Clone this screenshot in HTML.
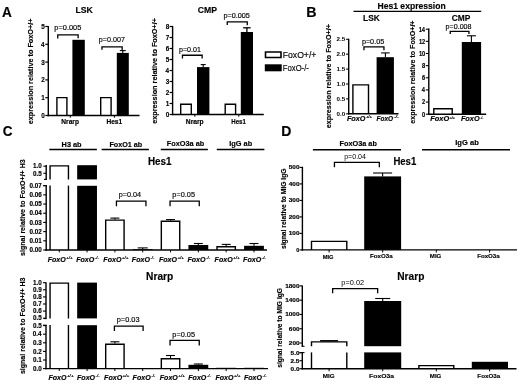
<!DOCTYPE html>
<html><head><meta charset="utf-8"><style>
html,body{margin:0;padding:0;background:#fff;}
svg{display:block;font-family:"Liberation Sans", sans-serif;filter:grayscale(1);}
text{fill:#000;stroke:#000;stroke-width:0.15;} text.n{stroke-width:0.16px;} text.l{stroke-width:0;}
</style></head><body>
<svg width="520" height="384" viewBox="0 0 520 384">
<rect width="520" height="384" fill="#fff"/>
<text transform="translate(1.91 16.80) scale(0.970 1)" font-size="14.00" font-weight="bold">A</text>
<text transform="translate(75.48 13.00) scale(0.992 1)" font-size="8.80" font-weight="bold">LSK</text>
<text transform="translate(197.70 13.40) scale(1.006 1)" font-size="8.60" font-weight="bold">CMP</text>
<line x1="48.30" y1="25.90" x2="48.30" y2="116.20" stroke="#000" stroke-width="1.4"/>
<line x1="45.30" y1="115.50" x2="48.30" y2="115.50" stroke="#000" stroke-width="1.2"/>
<text transform="translate(41.32 117.90) scale(0.950 1)" font-size="6.70" font-weight="bold">0</text>
<line x1="45.30" y1="97.70" x2="48.30" y2="97.70" stroke="#000" stroke-width="1.2"/>
<text transform="translate(41.23 100.10) scale(0.950 1)" font-size="6.70" font-weight="bold">1</text>
<line x1="45.30" y1="79.90" x2="48.30" y2="79.90" stroke="#000" stroke-width="1.2"/>
<text transform="translate(41.32 82.30) scale(0.950 1)" font-size="6.70" font-weight="bold">2</text>
<line x1="45.30" y1="62.10" x2="48.30" y2="62.10" stroke="#000" stroke-width="1.2"/>
<text transform="translate(41.29 64.50) scale(0.950 1)" font-size="6.70" font-weight="bold">3</text>
<line x1="45.30" y1="44.30" x2="48.30" y2="44.30" stroke="#000" stroke-width="1.2"/>
<text transform="translate(41.10 46.70) scale(0.950 1)" font-size="6.70" font-weight="bold">4</text>
<line x1="45.30" y1="26.50" x2="48.30" y2="26.50" stroke="#000" stroke-width="1.2"/>
<text transform="translate(41.23 28.90) scale(0.950 1)" font-size="6.70" font-weight="bold">5</text>
<line x1="47.60" y1="115.50" x2="139.50" y2="115.50" stroke="#000" stroke-width="1.4"/>
<text transform="translate(32.60 124.24) rotate(-90) scale(1.052 1)" font-size="6.90" font-weight="bold">expression relative to FoxO+/+</text>
<path d="M56.90 115.50 V97.60 H66.90 V115.50" stroke="#000" stroke-width="1.4" fill="none"/>
<rect x="72.40" y="39.80" width="12.40" height="75.70" fill="#000"/>
<path d="M100.70 115.50 V97.60 H111.10 V115.50" stroke="#000" stroke-width="1.4" fill="none"/>
<rect x="116.80" y="52.90" width="12.00" height="62.60" fill="#000"/>
<line x1="122.80" y1="50.60" x2="122.80" y2="52.90" stroke="#000" stroke-width="1.1"/>
<line x1="119.80" y1="50.60" x2="125.80" y2="50.60" stroke="#000" stroke-width="1.1"/>
<text transform="translate(61.32 124.10) scale(1.000 1)" font-size="6.60" font-weight="bold">Nrarp</text>
<text transform="translate(106.42 124.10) scale(1.001 1)" font-size="6.60" font-weight="bold">Hes1</text>
<line x1="70.30" y1="115.50" x2="70.30" y2="117.70" stroke="#000" stroke-width="1"/>
<line x1="114.40" y1="115.50" x2="114.40" y2="117.70" stroke="#000" stroke-width="1"/>
<text transform="translate(54.37 30.40) scale(1.040 1)" font-size="7.10" class="n">p=0.005</text>
<path d="M57.75 38.40 V34.85 H78.15 V38.20" stroke="#000" stroke-width="1.3" fill="none"/>
<text transform="translate(98.78 42.00) scale(1.011 1)" font-size="7.10" class="n">p=0.007</text>
<path d="M101.95 49.80 V46.85 H122.15 V50.60" stroke="#000" stroke-width="1.3" fill="none"/>
<line x1="172.60" y1="25.90" x2="172.60" y2="115.20" stroke="#000" stroke-width="1.4"/>
<line x1="169.60" y1="114.50" x2="172.60" y2="114.50" stroke="#000" stroke-width="1.2"/>
<text transform="translate(165.72 116.90) scale(0.950 1)" font-size="6.70" font-weight="bold">0</text>
<line x1="169.60" y1="103.50" x2="172.60" y2="103.50" stroke="#000" stroke-width="1.2"/>
<text transform="translate(165.63 105.90) scale(0.950 1)" font-size="6.70" font-weight="bold">1</text>
<line x1="169.60" y1="92.50" x2="172.60" y2="92.50" stroke="#000" stroke-width="1.2"/>
<text transform="translate(165.72 94.90) scale(0.950 1)" font-size="6.70" font-weight="bold">2</text>
<line x1="169.60" y1="81.50" x2="172.60" y2="81.50" stroke="#000" stroke-width="1.2"/>
<text transform="translate(165.69 83.90) scale(0.950 1)" font-size="6.70" font-weight="bold">3</text>
<line x1="169.60" y1="70.50" x2="172.60" y2="70.50" stroke="#000" stroke-width="1.2"/>
<text transform="translate(165.50 72.90) scale(0.950 1)" font-size="6.70" font-weight="bold">4</text>
<line x1="169.60" y1="59.50" x2="172.60" y2="59.50" stroke="#000" stroke-width="1.2"/>
<text transform="translate(165.63 61.90) scale(0.950 1)" font-size="6.70" font-weight="bold">5</text>
<line x1="169.60" y1="48.50" x2="172.60" y2="48.50" stroke="#000" stroke-width="1.2"/>
<text transform="translate(165.69 50.90) scale(0.950 1)" font-size="6.70" font-weight="bold">6</text>
<line x1="169.60" y1="37.50" x2="172.60" y2="37.50" stroke="#000" stroke-width="1.2"/>
<text transform="translate(165.72 39.90) scale(0.950 1)" font-size="6.70" font-weight="bold">7</text>
<line x1="169.60" y1="26.50" x2="172.60" y2="26.50" stroke="#000" stroke-width="1.2"/>
<text transform="translate(165.66 28.90) scale(0.950 1)" font-size="6.70" font-weight="bold">8</text>
<line x1="171.90" y1="114.50" x2="263.80" y2="114.50" stroke="#000" stroke-width="1.4"/>
<text transform="translate(157.00 123.84) rotate(-90) scale(1.056 1)" font-size="6.90" font-weight="bold">expression relative to FoxO+/+</text>
<path d="M180.70 114.50 V104.20 H191.30 V114.50" stroke="#000" stroke-width="1.4" fill="none"/>
<rect x="197.00" y="67.10" width="12.40" height="47.40" fill="#000"/>
<line x1="203.20" y1="64.60" x2="203.20" y2="67.10" stroke="#000" stroke-width="1.1"/>
<line x1="200.70" y1="64.60" x2="205.70" y2="64.60" stroke="#000" stroke-width="1.1"/>
<path d="M225.20 114.50 V104.20 H235.60 V114.50" stroke="#000" stroke-width="1.4" fill="none"/>
<rect x="240.80" y="32.00" width="12.20" height="82.50" fill="#000"/>
<line x1="246.90" y1="27.80" x2="246.90" y2="32.00" stroke="#000" stroke-width="1.3"/>
<line x1="243.15" y1="27.80" x2="250.65" y2="27.80" stroke="#000" stroke-width="1.3"/>
<text transform="translate(185.81 123.50) scale(1.018 1)" font-size="6.60" font-weight="bold">Nrarp</text>
<text transform="translate(231.25 123.50) scale(0.929 1)" font-size="6.60" font-weight="bold">Hes1</text>
<line x1="194.80" y1="114.50" x2="194.80" y2="116.70" stroke="#000" stroke-width="1"/>
<line x1="238.80" y1="114.50" x2="238.80" y2="116.70" stroke="#000" stroke-width="1"/>
<text transform="translate(178.99 51.60) scale(0.999 1)" font-size="7.10" class="n">p=0.01</text>
<path d="M182.45 58.60 V55.25 H202.15 V58.60" stroke="#000" stroke-width="1.3" fill="none"/>
<text transform="translate(223.38 17.50) scale(1.028 1)" font-size="7.10" class="n">p=0.005</text>
<path d="M227.25 24.90 V21.85 H247.25 V25.30" stroke="#000" stroke-width="1.3" fill="none"/>
<path d="M265.5 52.0 H281.0 V57.5 H265.5 Z" stroke="#000" stroke-width="1.6" fill="none"/>
<text transform="translate(282.76 57.90) scale(0.940 1)" font-size="9.20" class="n">FoxO+/+</text>
<rect x="264.80" y="64.30" width="16.90" height="7.00" fill="#000"/>
<text transform="translate(282.83 70.60) scale(0.836 1)" font-size="9.20" class="n">FoxO-/-</text>
<text transform="translate(306.22 17.00) scale(1.019 1)" font-size="14.00" font-weight="bold">B</text>
<text transform="translate(377.49 8.60) scale(0.954 1)" font-size="9.00" font-weight="bold">Hes1 expression</text>
<line x1="353.50" y1="11.40" x2="481.20" y2="11.40" stroke="#000" stroke-width="1.2"/>
<text transform="translate(363.11 20.60) scale(0.996 1)" font-size="8.40" font-weight="bold">LSK</text>
<text transform="translate(451.82 20.60) scale(0.973 1)" font-size="8.60" font-weight="bold">CMP</text>
<line x1="348.70" y1="38.70" x2="348.70" y2="114.50" stroke="#000" stroke-width="1.4"/>
<line x1="346.10" y1="113.80" x2="348.70" y2="113.80" stroke="#000" stroke-width="1.1"/>
<text transform="translate(336.56 115.60) scale(1.250 1)" font-size="5.00" font-weight="bold" class="l">0.0</text>
<line x1="346.10" y1="98.90" x2="348.70" y2="98.90" stroke="#000" stroke-width="1.1"/>
<text transform="translate(336.47 100.70) scale(1.250 1)" font-size="5.00" font-weight="bold" class="l">0.5</text>
<line x1="346.10" y1="84.00" x2="348.70" y2="84.00" stroke="#000" stroke-width="1.1"/>
<text transform="translate(336.56 85.80) scale(1.250 1)" font-size="5.00" font-weight="bold" class="l">1.0</text>
<line x1="346.10" y1="69.10" x2="348.70" y2="69.10" stroke="#000" stroke-width="1.1"/>
<text transform="translate(336.47 70.90) scale(1.250 1)" font-size="5.00" font-weight="bold" class="l">1.5</text>
<line x1="346.10" y1="54.20" x2="348.70" y2="54.20" stroke="#000" stroke-width="1.1"/>
<text transform="translate(336.56 56.00) scale(1.250 1)" font-size="5.00" font-weight="bold" class="l">2.0</text>
<line x1="346.10" y1="39.30" x2="348.70" y2="39.30" stroke="#000" stroke-width="1.1"/>
<text transform="translate(336.47 41.10) scale(1.250 1)" font-size="5.00" font-weight="bold" class="l">2.5</text>
<line x1="348.00" y1="113.80" x2="398.50" y2="113.80" stroke="#000" stroke-width="1.4"/>
<text transform="translate(331.30 128.24) rotate(-90) scale(1.053 1)" font-size="6.80" font-weight="bold">expression relative to FoxO+/+</text>
<path d="M352.90 113.80 V84.90 H368.50 V113.80" stroke="#000" stroke-width="1.4" fill="none"/>
<rect x="376.60" y="57.20" width="17.30" height="56.60" fill="#000"/>
<line x1="385.40" y1="52.90" x2="385.40" y2="57.20" stroke="#000" stroke-width="1.1"/>
<line x1="381.15" y1="52.90" x2="389.65" y2="52.90" stroke="#000" stroke-width="1.1"/>
<text transform="translate(346.90 120.90) scale(1.043 1)" font-size="7.00" font-style="italic" font-weight="bold">FoxO</text>
<text transform="translate(365.90 118.38) scale(0.979 1)" font-size="4.34" font-style="italic" font-weight="bold">+/+</text>
<text transform="translate(376.52 120.90) scale(0.930 1)" font-size="7.00" font-style="italic" font-weight="bold">FoxO</text>
<text transform="translate(393.58 118.38) scale(1.328 1)" font-size="4.34" font-style="italic" font-weight="bold">-/-</text>
<text transform="translate(361.88 43.60) scale(1.021 1)" font-size="7.10" class="n">p=0.05</text>
<path d="M363.95 50.20 V46.85 H383.95 V50.20" stroke="#000" stroke-width="1.3" fill="none"/>
<line x1="428.80" y1="28.62" x2="428.80" y2="114.90" stroke="#000" stroke-width="1.4"/>
<line x1="425.80" y1="114.20" x2="428.80" y2="114.20" stroke="#000" stroke-width="1.1"/>
<text transform="translate(422.05 116.50) scale(0.880 1)" font-size="6.50" font-weight="bold">0</text>
<line x1="425.80" y1="102.06" x2="428.80" y2="102.06" stroke="#000" stroke-width="1.1"/>
<text transform="translate(422.05 104.36) scale(0.880 1)" font-size="6.50" font-weight="bold">2</text>
<line x1="425.80" y1="89.92" x2="428.80" y2="89.92" stroke="#000" stroke-width="1.1"/>
<text transform="translate(421.85 92.22) scale(0.880 1)" font-size="6.50" font-weight="bold">4</text>
<line x1="425.80" y1="77.78" x2="428.80" y2="77.78" stroke="#000" stroke-width="1.1"/>
<text transform="translate(422.03 80.08) scale(0.880 1)" font-size="6.50" font-weight="bold">6</text>
<line x1="425.80" y1="65.64" x2="428.80" y2="65.64" stroke="#000" stroke-width="1.1"/>
<text transform="translate(422.00 67.94) scale(0.880 1)" font-size="6.50" font-weight="bold">8</text>
<line x1="425.80" y1="53.50" x2="428.80" y2="53.50" stroke="#000" stroke-width="1.1"/>
<text transform="translate(418.88 55.80) scale(0.880 1)" font-size="6.50" font-weight="bold">10</text>
<line x1="425.80" y1="41.36" x2="428.80" y2="41.36" stroke="#000" stroke-width="1.1"/>
<text transform="translate(418.88 43.66) scale(0.880 1)" font-size="6.50" font-weight="bold">12</text>
<line x1="425.80" y1="29.22" x2="428.80" y2="29.22" stroke="#000" stroke-width="1.1"/>
<text transform="translate(418.68 31.52) scale(0.880 1)" font-size="6.50" font-weight="bold">14</text>
<line x1="428.10" y1="114.20" x2="486.20" y2="114.20" stroke="#000" stroke-width="1.4"/>
<text transform="translate(415.20 123.73) rotate(-90) scale(1.045 1)" font-size="6.80" font-weight="bold">expression relative to FoxO+/+</text>
<path d="M433.80 114.20 V108.80 H452.20 V114.20" stroke="#000" stroke-width="1.4" fill="none"/>
<rect x="461.80" y="42.00" width="19.30" height="72.20" fill="#000"/>
<line x1="471.40" y1="35.80" x2="471.40" y2="42.00" stroke="#000" stroke-width="1.1"/>
<line x1="466.90" y1="35.80" x2="475.90" y2="35.80" stroke="#000" stroke-width="1.1"/>
<text transform="translate(430.20 121.10) scale(1.066 1)" font-size="7.00" font-style="italic" font-weight="bold">FoxO</text>
<text transform="translate(449.63 118.58) scale(0.844 1)" font-size="4.34" font-style="italic" font-weight="bold">+/+</text>
<text transform="translate(460.90 121.10) scale(1.049 1)" font-size="7.00" font-style="italic" font-weight="bold">FoxO</text>
<text transform="translate(480.14 118.58) scale(0.807 1)" font-size="4.34" font-style="italic" font-weight="bold">-/-</text>
<text transform="translate(445.59 28.50) scale(1.004 1)" font-size="7.10" class="n">p=0.008</text>
<path d="M450.25 34.00 V31.45 H468.95 V34.00" stroke="#000" stroke-width="1.3" fill="none"/>
<text transform="translate(2.71 136.40) scale(0.971 1)" font-size="14.00" font-weight="bold">C</text>
<text transform="translate(61.57 146.60) scale(1.085 1)" font-size="6.80" font-weight="bold">H3 ab</text>
<line x1="49.30" y1="149.50" x2="96.90" y2="149.50" stroke="#000" stroke-width="1.5"/>
<text transform="translate(109.38 146.60) scale(1.061 1)" font-size="6.80" font-weight="bold">FoxO1 ab</text>
<line x1="101.60" y1="149.50" x2="148.90" y2="149.50" stroke="#000" stroke-width="1.5"/>
<text transform="translate(166.67 146.10) scale(1.081 1)" font-size="6.80" font-weight="bold">FoxO3a ab</text>
<line x1="160.80" y1="149.50" x2="207.90" y2="149.50" stroke="#000" stroke-width="1.5"/>
<text transform="translate(229.27 146.10) scale(1.086 1)" font-size="6.80" font-weight="bold">IgG ab</text>
<line x1="216.80" y1="149.50" x2="264.40" y2="149.50" stroke="#000" stroke-width="1.5"/>
<text transform="translate(147.91 165.20) scale(0.977 1)" font-size="10.10" font-weight="bold">Hes1</text>
<text transform="translate(146.09 280.00) scale(1.000 1)" font-size="10.20" font-weight="bold">Nrarp</text>
<line x1="46.20" y1="165.00" x2="46.20" y2="179.40" stroke="#000" stroke-width="1.4"/>
<line x1="43.40" y1="166.20" x2="46.20" y2="166.20" stroke="#000" stroke-width="1.1"/>
<text transform="translate(33.09 168.40) scale(1.000 1)" font-size="6.30" font-weight="bold">1.0</text>
<line x1="43.40" y1="173.30" x2="46.20" y2="173.30" stroke="#000" stroke-width="1.1"/>
<text transform="translate(33.00 175.50) scale(1.000 1)" font-size="6.30" font-weight="bold">0.5</text>
<line x1="44.00" y1="179.40" x2="46.90" y2="179.40" stroke="#000" stroke-width="1.1"/>
<line x1="46.20" y1="185.50" x2="46.20" y2="250.70" stroke="#000" stroke-width="1.4"/>
<line x1="43.20" y1="185.60" x2="46.90" y2="185.60" stroke="#000" stroke-width="1.1"/>
<line x1="43.20" y1="250.00" x2="46.20" y2="250.00" stroke="#000" stroke-width="1.1"/>
<text transform="translate(29.60 252.10) scale(1.000 1)" font-size="6.30" font-weight="bold">0.00</text>
<line x1="43.20" y1="240.81" x2="46.20" y2="240.81" stroke="#000" stroke-width="1.1"/>
<text transform="translate(29.50 242.91) scale(1.000 1)" font-size="6.30" font-weight="bold">0.01</text>
<line x1="43.20" y1="231.62" x2="46.20" y2="231.62" stroke="#000" stroke-width="1.1"/>
<text transform="translate(29.60 233.72) scale(1.000 1)" font-size="6.30" font-weight="bold">0.02</text>
<line x1="43.20" y1="222.43" x2="46.20" y2="222.43" stroke="#000" stroke-width="1.1"/>
<text transform="translate(29.57 224.53) scale(1.000 1)" font-size="6.30" font-weight="bold">0.03</text>
<line x1="43.20" y1="213.24" x2="46.20" y2="213.24" stroke="#000" stroke-width="1.1"/>
<text transform="translate(29.38 215.34) scale(1.000 1)" font-size="6.30" font-weight="bold">0.04</text>
<line x1="43.20" y1="204.05" x2="46.20" y2="204.05" stroke="#000" stroke-width="1.1"/>
<text transform="translate(29.50 206.15) scale(1.000 1)" font-size="6.30" font-weight="bold">0.05</text>
<line x1="43.20" y1="194.86" x2="46.20" y2="194.86" stroke="#000" stroke-width="1.1"/>
<text transform="translate(29.57 196.96) scale(1.000 1)" font-size="6.30" font-weight="bold">0.06</text>
<line x1="43.20" y1="185.67" x2="46.20" y2="185.67" stroke="#000" stroke-width="1.1"/>
<text transform="translate(29.60 187.77) scale(1.000 1)" font-size="6.30" font-weight="bold">0.07</text>
<line x1="45.50" y1="250.00" x2="267.00" y2="250.00" stroke="#000" stroke-width="1.4"/>
<text transform="translate(24.90 255.90) rotate(-90) scale(1.101 1)" font-size="6.40" font-weight="bold">signal relative to FoxO+/+ H3</text>
<path d="M50.05 179.40 V165.90 H68.45 V179.40" stroke="#000" stroke-width="1.4" fill="none"/>
<line x1="50.05" y1="185.60" x2="50.05" y2="250.00" stroke="#000" stroke-width="1.4"/>
<line x1="68.45" y1="185.60" x2="68.45" y2="250.00" stroke="#000" stroke-width="1.4"/>
<rect x="77.17" y="165.20" width="19.80" height="14.20" fill="#000"/>
<rect x="77.17" y="185.80" width="19.80" height="64.20" fill="#000"/>
<path d="M105.69 250.00 V220.10 H124.09 V250.00" stroke="#000" stroke-width="1.4" fill="none"/>
<line x1="114.89" y1="218.10" x2="114.89" y2="219.40" stroke="#000" stroke-width="1.1"/>
<line x1="110.39" y1="218.10" x2="119.39" y2="218.10" stroke="#000" stroke-width="1.1"/>
<rect x="132.81" y="249.20" width="19.80" height="0.80" fill="#000"/>
<line x1="142.71" y1="247.90" x2="142.71" y2="249.20" stroke="#000" stroke-width="1.1"/>
<line x1="137.71" y1="247.90" x2="147.71" y2="247.90" stroke="#000" stroke-width="1.1"/>
<path d="M161.33 250.00 V221.30 H179.73 V250.00" stroke="#000" stroke-width="1.4" fill="none"/>
<line x1="170.53" y1="219.60" x2="170.53" y2="220.60" stroke="#000" stroke-width="1.1"/>
<line x1="166.03" y1="219.60" x2="175.03" y2="219.60" stroke="#000" stroke-width="1.1"/>
<rect x="188.45" y="245.00" width="19.80" height="5.00" fill="#000"/>
<line x1="198.35" y1="243.50" x2="198.35" y2="245.00" stroke="#000" stroke-width="1.1"/>
<line x1="193.85" y1="243.50" x2="202.85" y2="243.50" stroke="#000" stroke-width="1.1"/>
<path d="M216.97 250.00 V246.70 H235.37 V250.00" stroke="#000" stroke-width="1.4" fill="none"/>
<line x1="226.17" y1="244.40" x2="226.17" y2="246.00" stroke="#000" stroke-width="1.1"/>
<line x1="221.67" y1="244.40" x2="230.67" y2="244.40" stroke="#000" stroke-width="1.1"/>
<rect x="244.09" y="245.80" width="19.80" height="4.20" fill="#000"/>
<line x1="253.99" y1="243.50" x2="253.99" y2="245.80" stroke="#000" stroke-width="1.1"/>
<line x1="249.49" y1="243.50" x2="258.49" y2="243.50" stroke="#000" stroke-width="1.1"/>
<line x1="59.25" y1="250.00" x2="59.25" y2="252.40" stroke="#000" stroke-width="1"/>
<text transform="translate(47.66 261.50) scale(1.045 1)" font-size="6.80" font-style="italic" font-weight="bold">FoxO</text>
<text transform="translate(66.12 259.05) scale(1.095 1)" font-size="4.22" font-style="italic" font-weight="bold">+/+</text>
<line x1="87.07" y1="250.00" x2="87.07" y2="252.40" stroke="#000" stroke-width="1"/>
<text transform="translate(76.18 261.50) scale(1.045 1)" font-size="6.80" font-style="italic" font-weight="bold">FoxO</text>
<text transform="translate(94.79 259.05) scale(1.018 1)" font-size="4.22" font-style="italic" font-weight="bold">-/-</text>
<line x1="114.89" y1="250.00" x2="114.89" y2="252.40" stroke="#000" stroke-width="1"/>
<text transform="translate(103.30 261.50) scale(1.045 1)" font-size="6.80" font-style="italic" font-weight="bold">FoxO</text>
<text transform="translate(121.76 259.05) scale(1.095 1)" font-size="4.22" font-style="italic" font-weight="bold">+/+</text>
<line x1="142.71" y1="250.00" x2="142.71" y2="252.40" stroke="#000" stroke-width="1"/>
<text transform="translate(131.82 261.50) scale(1.045 1)" font-size="6.80" font-style="italic" font-weight="bold">FoxO</text>
<text transform="translate(150.43 259.05) scale(1.018 1)" font-size="4.22" font-style="italic" font-weight="bold">-/-</text>
<line x1="170.53" y1="250.00" x2="170.53" y2="252.40" stroke="#000" stroke-width="1"/>
<text transform="translate(158.94 261.50) scale(1.045 1)" font-size="6.80" font-style="italic" font-weight="bold">FoxO</text>
<text transform="translate(177.40 259.05) scale(1.095 1)" font-size="4.22" font-style="italic" font-weight="bold">+/+</text>
<line x1="198.35" y1="250.00" x2="198.35" y2="252.40" stroke="#000" stroke-width="1"/>
<text transform="translate(187.46 261.50) scale(1.045 1)" font-size="6.80" font-style="italic" font-weight="bold">FoxO</text>
<text transform="translate(206.07 259.05) scale(1.018 1)" font-size="4.22" font-style="italic" font-weight="bold">-/-</text>
<line x1="226.17" y1="250.00" x2="226.17" y2="252.40" stroke="#000" stroke-width="1"/>
<text transform="translate(214.58 261.50) scale(1.045 1)" font-size="6.80" font-style="italic" font-weight="bold">FoxO</text>
<text transform="translate(233.04 259.05) scale(1.095 1)" font-size="4.22" font-style="italic" font-weight="bold">+/+</text>
<line x1="253.99" y1="250.00" x2="253.99" y2="252.40" stroke="#000" stroke-width="1"/>
<text transform="translate(243.10 261.50) scale(1.045 1)" font-size="6.80" font-style="italic" font-weight="bold">FoxO</text>
<text transform="translate(261.71 259.05) scale(1.018 1)" font-size="4.22" font-style="italic" font-weight="bold">-/-</text>
<text transform="translate(118.68 197.00) scale(1.022 1)" font-size="7.10" class="n">p=0.04</text>
<path d="M116.45 206.20 V201.15 H145.95 V206.20" stroke="#000" stroke-width="1.3" fill="none"/>
<text transform="translate(172.37 197.00) scale(1.035 1)" font-size="7.10" class="n">p=0.05</text>
<path d="M170.05 206.20 V201.15 H199.25 V206.20" stroke="#000" stroke-width="1.3" fill="none"/>
<line x1="46.00" y1="282.20" x2="46.00" y2="318.40" stroke="#000" stroke-width="1.4"/>
<line x1="43.00" y1="282.70" x2="46.00" y2="282.70" stroke="#000" stroke-width="1.1"/>
<text transform="translate(33.09 284.80) scale(1.000 1)" font-size="6.30" font-weight="bold">1.0</text>
<line x1="43.00" y1="289.80" x2="46.00" y2="289.80" stroke="#000" stroke-width="1.1"/>
<text transform="translate(33.06 291.90) scale(1.000 1)" font-size="6.30" font-weight="bold">0.9</text>
<line x1="43.00" y1="296.90" x2="46.00" y2="296.90" stroke="#000" stroke-width="1.1"/>
<text transform="translate(33.03 299.00) scale(1.000 1)" font-size="6.30" font-weight="bold">0.8</text>
<line x1="43.00" y1="304.00" x2="46.00" y2="304.00" stroke="#000" stroke-width="1.1"/>
<text transform="translate(33.09 306.10) scale(1.000 1)" font-size="6.30" font-weight="bold">0.7</text>
<line x1="43.00" y1="311.10" x2="46.00" y2="311.10" stroke="#000" stroke-width="1.1"/>
<text transform="translate(33.06 313.20) scale(1.000 1)" font-size="6.30" font-weight="bold">0.6</text>
<line x1="43.00" y1="318.20" x2="46.00" y2="318.20" stroke="#000" stroke-width="1.1"/>
<text transform="translate(33.00 320.30) scale(1.000 1)" font-size="6.30" font-weight="bold">0.5</text>
<line x1="43.80" y1="318.60" x2="46.70" y2="318.60" stroke="#000" stroke-width="1.1"/>
<line x1="46.00" y1="325.00" x2="46.00" y2="369.30" stroke="#000" stroke-width="1.4"/>
<line x1="43.00" y1="325.20" x2="46.70" y2="325.20" stroke="#000" stroke-width="1.1"/>
<line x1="43.00" y1="368.60" x2="46.00" y2="368.60" stroke="#000" stroke-width="1.1"/>
<text transform="translate(33.09 370.70) scale(1.000 1)" font-size="6.30" font-weight="bold">0.0</text>
<line x1="43.00" y1="360.00" x2="46.00" y2="360.00" stroke="#000" stroke-width="1.1"/>
<text transform="translate(33.00 362.10) scale(1.000 1)" font-size="6.30" font-weight="bold">0.1</text>
<line x1="43.00" y1="351.40" x2="46.00" y2="351.40" stroke="#000" stroke-width="1.1"/>
<text transform="translate(33.09 353.50) scale(1.000 1)" font-size="6.30" font-weight="bold">0.2</text>
<line x1="43.00" y1="342.80" x2="46.00" y2="342.80" stroke="#000" stroke-width="1.1"/>
<text transform="translate(33.06 344.90) scale(1.000 1)" font-size="6.30" font-weight="bold">0.3</text>
<line x1="43.00" y1="334.20" x2="46.00" y2="334.20" stroke="#000" stroke-width="1.1"/>
<text transform="translate(32.87 336.30) scale(1.000 1)" font-size="6.30" font-weight="bold">0.4</text>
<line x1="43.00" y1="325.60" x2="46.00" y2="325.60" stroke="#000" stroke-width="1.1"/>
<text transform="translate(33.00 327.70) scale(1.000 1)" font-size="6.30" font-weight="bold">0.5</text>
<line x1="45.30" y1="368.60" x2="268.00" y2="368.60" stroke="#000" stroke-width="1.4"/>
<text transform="translate(24.80 374.10) rotate(-90) scale(1.103 1)" font-size="6.40" font-weight="bold">signal relative to FoxO+/+ H3</text>
<path d="M50.05 318.40 V283.10 H68.45 V318.40" stroke="#000" stroke-width="1.4" fill="none"/>
<line x1="50.05" y1="325.00" x2="50.05" y2="368.60" stroke="#000" stroke-width="1.4"/>
<line x1="68.45" y1="325.00" x2="68.45" y2="368.60" stroke="#000" stroke-width="1.4"/>
<rect x="77.17" y="282.60" width="19.80" height="35.80" fill="#000"/>
<rect x="77.17" y="325.20" width="19.80" height="43.40" fill="#000"/>
<path d="M105.69 368.60 V344.20 H124.09 V368.60" stroke="#000" stroke-width="1.4" fill="none"/>
<line x1="114.89" y1="341.80" x2="114.89" y2="343.50" stroke="#000" stroke-width="1.1"/>
<line x1="110.39" y1="341.80" x2="119.39" y2="341.80" stroke="#000" stroke-width="1.1"/>
<path d="M161.33 368.60 V358.70 H179.73 V368.60" stroke="#000" stroke-width="1.4" fill="none"/>
<line x1="170.53" y1="355.50" x2="170.53" y2="358.00" stroke="#000" stroke-width="1.1"/>
<line x1="166.03" y1="355.50" x2="175.03" y2="355.50" stroke="#000" stroke-width="1.1"/>
<rect x="188.45" y="364.80" width="19.80" height="3.80" fill="#000"/>
<line x1="198.35" y1="364.00" x2="198.35" y2="364.80" stroke="#000" stroke-width="1.1"/>
<line x1="193.85" y1="364.00" x2="202.85" y2="364.00" stroke="#000" stroke-width="1.1"/>
<rect x="216.27" y="367.80" width="19.80" height="0.80" fill="#000"/>
<rect x="244.09" y="367.80" width="19.80" height="0.80" fill="#000"/>
<line x1="59.25" y1="368.60" x2="59.25" y2="371.00" stroke="#000" stroke-width="1"/>
<text transform="translate(48.46 379.90) scale(1.045 1)" font-size="6.80" font-style="italic" font-weight="bold">FoxO</text>
<text transform="translate(66.92 377.45) scale(1.095 1)" font-size="4.22" font-style="italic" font-weight="bold">+/+</text>
<line x1="87.07" y1="368.60" x2="87.07" y2="371.00" stroke="#000" stroke-width="1"/>
<text transform="translate(76.98 379.90) scale(1.045 1)" font-size="6.80" font-style="italic" font-weight="bold">FoxO</text>
<text transform="translate(95.59 377.45) scale(1.018 1)" font-size="4.22" font-style="italic" font-weight="bold">-/-</text>
<line x1="114.89" y1="368.60" x2="114.89" y2="371.00" stroke="#000" stroke-width="1"/>
<text transform="translate(104.10 379.90) scale(1.045 1)" font-size="6.80" font-style="italic" font-weight="bold">FoxO</text>
<text transform="translate(122.56 377.45) scale(1.095 1)" font-size="4.22" font-style="italic" font-weight="bold">+/+</text>
<line x1="142.71" y1="368.60" x2="142.71" y2="371.00" stroke="#000" stroke-width="1"/>
<text transform="translate(132.62 379.90) scale(1.045 1)" font-size="6.80" font-style="italic" font-weight="bold">FoxO</text>
<text transform="translate(151.23 377.45) scale(1.018 1)" font-size="4.22" font-style="italic" font-weight="bold">-/-</text>
<line x1="170.53" y1="368.60" x2="170.53" y2="371.00" stroke="#000" stroke-width="1"/>
<text transform="translate(159.74 379.90) scale(1.045 1)" font-size="6.80" font-style="italic" font-weight="bold">FoxO</text>
<text transform="translate(178.20 377.45) scale(1.095 1)" font-size="4.22" font-style="italic" font-weight="bold">+/+</text>
<line x1="198.35" y1="368.60" x2="198.35" y2="371.00" stroke="#000" stroke-width="1"/>
<text transform="translate(188.26 379.90) scale(1.045 1)" font-size="6.80" font-style="italic" font-weight="bold">FoxO</text>
<text transform="translate(206.87 377.45) scale(1.018 1)" font-size="4.22" font-style="italic" font-weight="bold">-/-</text>
<line x1="226.17" y1="368.60" x2="226.17" y2="371.00" stroke="#000" stroke-width="1"/>
<text transform="translate(215.38 379.90) scale(1.045 1)" font-size="6.80" font-style="italic" font-weight="bold">FoxO</text>
<text transform="translate(233.84 377.45) scale(1.095 1)" font-size="4.22" font-style="italic" font-weight="bold">+/+</text>
<line x1="253.99" y1="368.60" x2="253.99" y2="371.00" stroke="#000" stroke-width="1"/>
<text transform="translate(243.90 379.90) scale(1.045 1)" font-size="6.80" font-style="italic" font-weight="bold">FoxO</text>
<text transform="translate(262.51 377.45) scale(1.018 1)" font-size="4.22" font-style="italic" font-weight="bold">-/-</text>
<text transform="translate(116.77 322.30) scale(1.040 1)" font-size="7.10" class="n">p=0.03</text>
<path d="M114.40 331.00 V326.15 H143.10 V331.00" stroke="#000" stroke-width="1.3" fill="none"/>
<text transform="translate(172.37 336.60) scale(1.035 1)" font-size="7.10" class="n">p=0.05</text>
<path d="M170.05 345.50 V340.40 H199.25 V345.50" stroke="#000" stroke-width="1.3" fill="none"/>
<text transform="translate(281.24 136.20) scale(0.999 1)" font-size="14.00" font-weight="bold">D</text>
<text transform="translate(339.57 145.50) scale(1.075 1)" font-size="6.80" font-weight="bold">FoxO3a ab</text>
<line x1="312.90" y1="149.80" x2="401.00" y2="149.80" stroke="#000" stroke-width="1.5"/>
<text transform="translate(455.26 145.30) scale(1.113 1)" font-size="6.80" font-weight="bold">IgG ab</text>
<line x1="422.00" y1="149.80" x2="510.00" y2="149.80" stroke="#000" stroke-width="1.5"/>
<text transform="translate(393.38 165.10) scale(0.947 1)" font-size="10.10" font-weight="bold">Hes1</text>
<text transform="translate(397.29 279.70) scale(0.996 1)" font-size="10.20" font-weight="bold">Nrarp</text>
<line x1="302.40" y1="166.80" x2="302.40" y2="250.60" stroke="#000" stroke-width="1.4"/>
<line x1="299.60" y1="249.90" x2="302.40" y2="249.90" stroke="#000" stroke-width="1.1"/>
<text transform="translate(296.32 251.90) scale(1.000 1)" font-size="5.60" font-weight="bold">0</text>
<line x1="299.60" y1="233.40" x2="302.40" y2="233.40" stroke="#000" stroke-width="1.1"/>
<text transform="translate(288.74 235.40) scale(1.150 1)" font-size="5.60" font-weight="bold">100</text>
<line x1="299.60" y1="216.90" x2="302.40" y2="216.90" stroke="#000" stroke-width="1.1"/>
<text transform="translate(288.74 218.90) scale(1.150 1)" font-size="5.60" font-weight="bold">200</text>
<line x1="299.60" y1="200.40" x2="302.40" y2="200.40" stroke="#000" stroke-width="1.1"/>
<text transform="translate(288.74 202.40) scale(1.150 1)" font-size="5.60" font-weight="bold">300</text>
<line x1="299.60" y1="183.90" x2="302.40" y2="183.90" stroke="#000" stroke-width="1.1"/>
<text transform="translate(288.74 185.90) scale(1.150 1)" font-size="5.60" font-weight="bold">400</text>
<line x1="299.60" y1="167.40" x2="302.40" y2="167.40" stroke="#000" stroke-width="1.1"/>
<text transform="translate(288.74 169.40) scale(1.150 1)" font-size="5.60" font-weight="bold">500</text>
<line x1="301.70" y1="249.90" x2="517.00" y2="249.90" stroke="#000" stroke-width="1.4"/>
<text transform="translate(286.00 248.99) rotate(-90) scale(1.068 1)" font-size="6.30" font-weight="bold">signal relative to MIG IgG</text>
<path d="M311.50 249.90 V241.40 H346.80 V249.90" stroke="#000" stroke-width="1.4" fill="none"/>
<rect x="364.20" y="176.40" width="36.90" height="73.50" fill="#000"/>
<line x1="382.60" y1="173.00" x2="382.60" y2="176.40" stroke="#000" stroke-width="1.1"/>
<line x1="373.10" y1="173.00" x2="392.10" y2="173.00" stroke="#000" stroke-width="1.1"/>
<line x1="329.10" y1="249.90" x2="329.10" y2="252.50" stroke="#000" stroke-width="1"/>
<line x1="382.70" y1="249.90" x2="382.70" y2="252.50" stroke="#000" stroke-width="1"/>
<line x1="436.30" y1="249.90" x2="436.30" y2="252.50" stroke="#000" stroke-width="1"/>
<line x1="489.60" y1="249.90" x2="489.60" y2="252.50" stroke="#000" stroke-width="1"/>
<text transform="translate(322.68 258.50) scale(0.941 1)" font-size="6.10" font-weight="bold">MIG</text>
<text transform="translate(369.95 258.40) scale(1.013 1)" font-size="6.10" font-weight="bold">FoxO3a</text>
<text transform="translate(429.85 258.40) scale(1.001 1)" font-size="6.10" font-weight="bold">MIG</text>
<text transform="translate(477.15 258.40) scale(1.008 1)" font-size="6.10" font-weight="bold">FoxO3a</text>
<text transform="translate(344.19 159.00) scale(1.086 1)" font-size="6.50" class="l">p=0.04</text>
<path d="M334.45 167.20 V162.35 H379.35 V167.20" stroke="#000" stroke-width="1.3" fill="none"/>
<line x1="302.30" y1="285.40" x2="302.30" y2="346.30" stroke="#000" stroke-width="1.4"/>
<line x1="299.50" y1="285.90" x2="302.30" y2="285.90" stroke="#000" stroke-width="1.1"/>
<text transform="translate(285.23 287.90) scale(1.150 1)" font-size="5.60" font-weight="bold">1800</text>
<line x1="299.50" y1="300.18" x2="302.30" y2="300.18" stroke="#000" stroke-width="1.1"/>
<text transform="translate(285.23 302.18) scale(1.150 1)" font-size="5.60" font-weight="bold">1400</text>
<line x1="299.50" y1="314.46" x2="302.30" y2="314.46" stroke="#000" stroke-width="1.1"/>
<text transform="translate(285.23 316.46) scale(1.150 1)" font-size="5.60" font-weight="bold">1000</text>
<line x1="299.50" y1="328.74" x2="302.30" y2="328.74" stroke="#000" stroke-width="1.1"/>
<text transform="translate(288.84 330.74) scale(1.150 1)" font-size="5.60" font-weight="bold">600</text>
<line x1="299.50" y1="343.02" x2="302.30" y2="343.02" stroke="#000" stroke-width="1.1"/>
<text transform="translate(288.84 345.02) scale(1.150 1)" font-size="5.60" font-weight="bold">200</text>
<line x1="301.60" y1="346.30" x2="304.50" y2="346.30" stroke="#000" stroke-width="1.1"/>
<line x1="302.30" y1="352.40" x2="302.30" y2="369.40" stroke="#000" stroke-width="1.4"/>
<line x1="299.50" y1="352.60" x2="304.50" y2="352.60" stroke="#000" stroke-width="1.1"/>
<line x1="299.50" y1="352.70" x2="302.30" y2="352.70" stroke="#000" stroke-width="1.1"/>
<text transform="translate(290.61 354.70) scale(1.150 1)" font-size="5.60" font-weight="bold">5.0</text>
<line x1="299.50" y1="360.70" x2="302.30" y2="360.70" stroke="#000" stroke-width="1.1"/>
<text transform="translate(290.51 362.70) scale(1.150 1)" font-size="5.60" font-weight="bold">2.5</text>
<line x1="299.50" y1="368.70" x2="302.30" y2="368.70" stroke="#000" stroke-width="1.1"/>
<text transform="translate(290.61 370.70) scale(1.150 1)" font-size="5.60" font-weight="bold">0.0</text>
<line x1="301.60" y1="368.70" x2="516.50" y2="368.70" stroke="#000" stroke-width="1.4"/>
<text transform="translate(282.20 367.78) rotate(-90) scale(1.056 1)" font-size="6.30" font-weight="bold">signal relative to MIG IgG</text>
<path d="M311.50 346.20 V341.90 H346.80 V346.20" stroke="#000" stroke-width="1.4" fill="none"/>
<line x1="311.50" y1="352.40" x2="311.50" y2="368.70" stroke="#000" stroke-width="1.4"/>
<line x1="346.80" y1="352.40" x2="346.80" y2="368.70" stroke="#000" stroke-width="1.4"/>
<line x1="329.10" y1="340.80" x2="329.10" y2="341.20" stroke="#000" stroke-width="1.5"/>
<line x1="320.10" y1="340.80" x2="338.10" y2="340.80" stroke="#000" stroke-width="1.5"/>
<rect x="364.20" y="301.00" width="37.00" height="45.20" fill="#000"/>
<rect x="364.20" y="352.40" width="37.00" height="16.30" fill="#000"/>
<line x1="382.70" y1="298.50" x2="382.70" y2="301.00" stroke="#000" stroke-width="1.1"/>
<line x1="375.20" y1="298.50" x2="390.20" y2="298.50" stroke="#000" stroke-width="1.1"/>
<path d="M418.90 368.70 V365.60 H453.80 V368.70" stroke="#000" stroke-width="1.4" fill="none"/>
<rect x="471.80" y="361.80" width="36.20" height="6.90" fill="#000"/>
<line x1="329.10" y1="368.70" x2="329.10" y2="371.30" stroke="#000" stroke-width="1"/>
<line x1="382.70" y1="368.70" x2="382.70" y2="371.30" stroke="#000" stroke-width="1"/>
<line x1="436.30" y1="368.70" x2="436.30" y2="371.30" stroke="#000" stroke-width="1"/>
<line x1="489.60" y1="368.70" x2="489.60" y2="371.30" stroke="#000" stroke-width="1"/>
<text transform="translate(322.84 378.00) scale(1.025 1)" font-size="6.10" font-weight="bold">MIG</text>
<text transform="translate(369.11 378.00) scale(1.113 1)" font-size="6.10" font-weight="bold">FoxO3a</text>
<text transform="translate(429.85 377.60) scale(1.001 1)" font-size="6.10" font-weight="bold">MIG</text>
<text transform="translate(477.34 377.60) scale(1.022 1)" font-size="6.10" font-weight="bold">FoxO3a</text>
<text transform="translate(341.37 285.30) scale(1.117 1)" font-size="6.60" class="l">p=0.02</text>
<path d="M332.65 293.30 V288.65 H377.65 V293.30" stroke="#000" stroke-width="1.3" fill="none"/>
</svg>
</body></html>
